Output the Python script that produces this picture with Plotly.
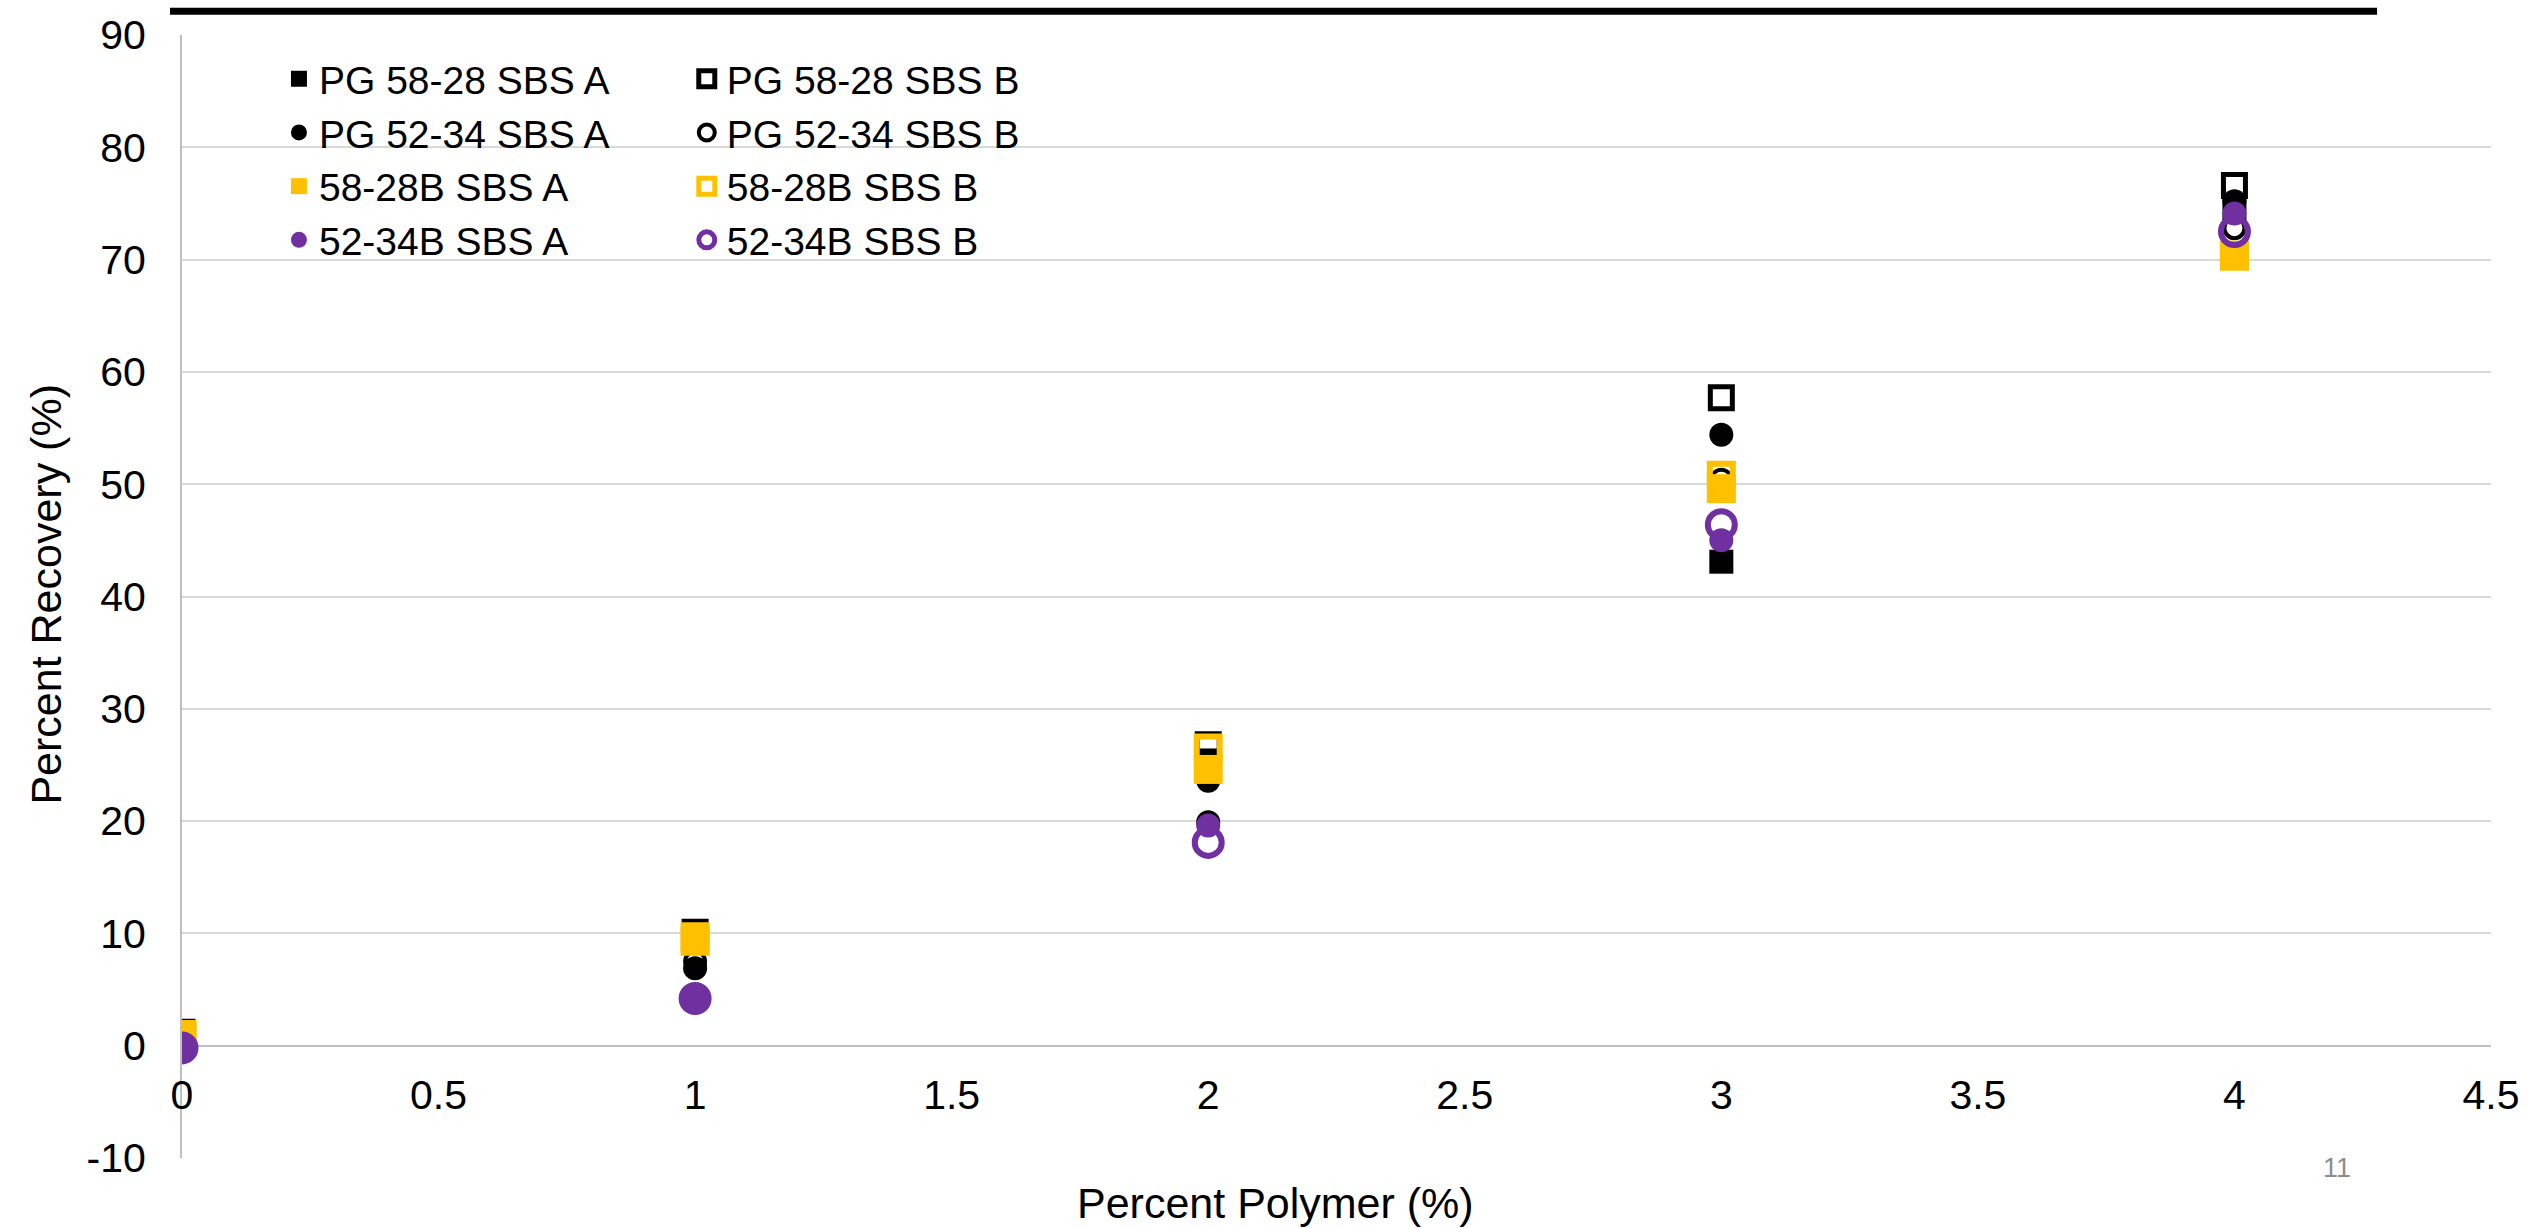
import plotly.graph_objects as go

# ---- data ----
polymer = [0, 1, 2, 3, 4]

pg5828_a = [1.0, 10.2, 25.4, 43.1, 74.5]
pg5828_b = [1.2, 10.1, 26.8, 57.7, 76.6]
pg5234_a = [0.3, 6.9, 23.6, 54.4, 75.2]
pg5234_b = [0.2, 7.5, 19.9, 50.4, 72.8]
b5828_a = [0.8, 9.3, 24.6, 49.6, 70.4]
b5828_b = [1.0, 9.7, 26.5, 50.8, 70.3]
b5234_a = [-0.2, 4.2, 19.6, 45.0, 74.1]
b5234_b = [-0.2, 4.2, 18.1, 46.4, 72.5]

names = ["PG 58-28 SBS A", "PG 58-28 SBS B", "PG 52-34 SBS A", "PG 52-34 SBS B",
         "58-28B SBS A", "58-28B SBS B", "52-34B SBS A", "52-34B SBS B"]

x_ticks = [0, 0.5, 1, 1.5, 2, 2.5, 3, 3.5, 4, 4.5]
y_ticks = [-10, 0, 10, 20, 30, 40, 50, 60, 70, 80, 90]

BLACK = "#000000"
YELLOW = "#FFC000"
PURPLE = "#7030A0"
FONT = "Liberation Sans, Arial, sans-serif"

series = [
    (names[0], pg5828_a, dict(symbol="square", size=24, color=BLACK), "legend"),
    (names[1], pg5828_b, dict(symbol="square-open", size=22, color=BLACK, line=dict(width=5, color=BLACK)), "legend2"),
    (names[2], pg5234_a, dict(symbol="circle", size=24, color=BLACK), "legend"),
    (names[3], pg5234_b, dict(symbol="circle-open", size=20, color=BLACK, line=dict(width=4, color=BLACK)), "legend2"),
    (names[4], b5828_a, dict(symbol="square", size=29, color=YELLOW), "legend"),
    (names[5], b5828_b, dict(symbol="square-open", size=23, color=YELLOW, line=dict(width=6, color=YELLOW)), "legend2"),
    (names[6], b5234_a, dict(symbol="circle", size=24, color=PURPLE), "legend"),
    (names[7], b5234_b, dict(symbol="circle-open", size=27, color=PURPLE, line=dict(width=6, color=PURPLE)), "legend2"),
]

fig = go.Figure()
for name, vals, marker, leg in series:
    fig.add_trace(go.Scatter(x=polymer, y=vals, mode="markers", name=name,
                             marker=marker, legend=leg))

W, H = 2532, 1228
ML, MR, MT, MB = 182, 40, 26, 70
PW = W - ML - MR
PH = H - MT - MB

def px_x(px):
    return (px - ML) / PW

def px_y(py):
    return (H - MB - py) / PH

TICK = 41
LEG = 39
TITLE = 43

fig.update_layout(
    width=W, height=H,
    margin=dict(l=ML, r=MR, t=MT, b=MB, pad=0),
    paper_bgcolor="white", plot_bgcolor="white",
    font=dict(family=FONT, size=TICK, color="black"),
    xaxis=dict(range=[0, 4.5], tickvals=x_ticks, ticktext=[f"{v:g}" for v in x_ticks],
               showgrid=False, zeroline=False, showline=False,
               anchor="free", position=0.1, ticks="", ticklabelstandoff=21,
               tickfont=dict(size=TICK, family=FONT, color="black")),
    yaxis=dict(range=[-10, 90], tickvals=y_ticks, ticktext=[str(v) for v in y_ticks],
               showgrid=True, gridcolor="#D9D9D9", gridwidth=2,
               zeroline=True, zerolinecolor="#BFBFBF", zerolinewidth=2,
               showline=True, linecolor="#BFBFBF", linewidth=2,
               ticks="", ticklabelstandoff=26,
               tickfont=dict(size=TICK, family=FONT, color="black")),
    legend=dict(x=px_x(279), y=px_y(38), xanchor="left", yanchor="top",
                bgcolor="rgba(0,0,0,0)", font=dict(size=LEG, family=FONT),
                tracegroupgap=0, itemclick=False),
    legend2=dict(x=px_x(687), y=px_y(38), xanchor="left", yanchor="top",
                 bgcolor="rgba(0,0,0,0)", font=dict(size=LEG, family=FONT),
                 tracegroupgap=0, itemclick=False),
    showlegend=True,
)

# axis titles
fig.add_annotation(text="Percent Polymer (%)", xref="paper", yref="paper",
                   x=px_x(1276), y=px_y(1203), showarrow=False,
                   font=dict(size=TITLE, family=FONT, color="black"),
                   xanchor="center", yanchor="middle")
fig.add_annotation(text="Percent Recovery (%)", xref="paper", yref="paper",
                   x=px_x(45), y=px_y(590), showarrow=False, textangle=-90,
                   font=dict(size=TITLE, family=FONT, color="black"),
                   xanchor="center", yanchor="middle")
# slide number
fig.add_annotation(text="11", xref="paper", yref="paper",
                   x=px_x(2338), y=px_y(1168), showarrow=False,
                   font=dict(size=27, family=FONT, color="#8C8C8C"),
                   xanchor="center", yanchor="middle")

# top black rule
fig.add_shape(type="line", xref="paper", yref="paper",
              x0=px_x(170), x1=px_x(2378), y0=px_y(2), y1=px_y(2),
              line=dict(color="black", width=7))

fig.write_html("out.html")
